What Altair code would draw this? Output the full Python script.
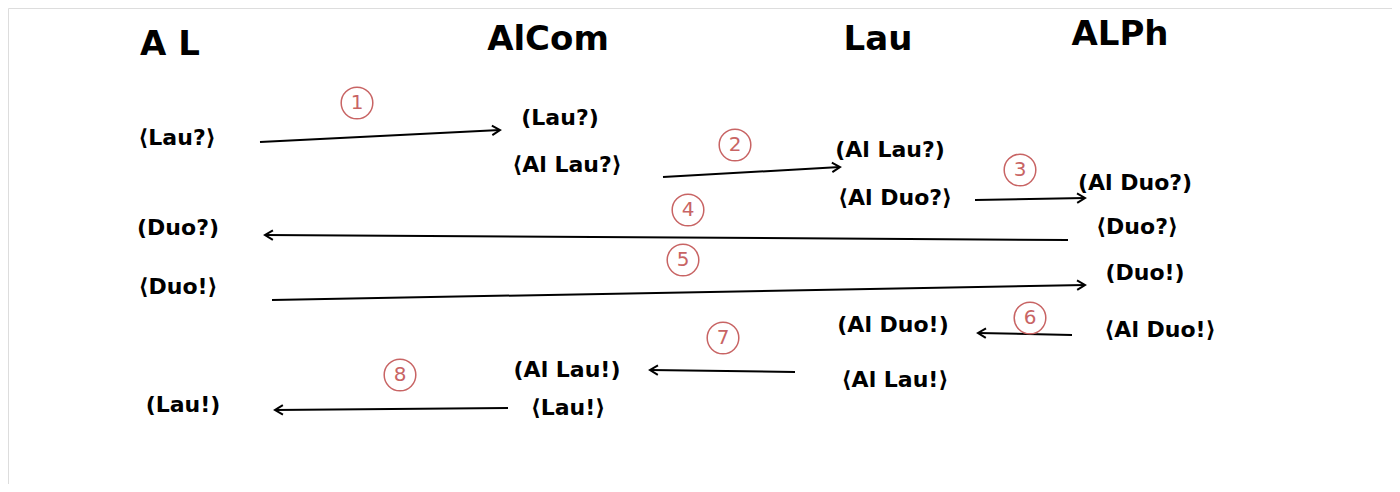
import altair as alt
import pandas as pd
import math

# headers
hdr_text = ["A L", "AlCom", "Lau", "ALPh"]
hdr_x = [170, 548, 878, 1120]
hdr_y = [45, 40, 40, 35]

# message labels
msg_text = ["⟨Lau?⟩", "(Lau?)", "⟨Al Lau?⟩", "(Al Lau?)", "⟨Al Duo?⟩", "(Al Duo?)", "⟨Duo?⟩",
            "(Duo?)", "⟨Duo!⟩", "(Duo!)", "⟨Al Duo!⟩", "(Al Duo!)", "⟨Al Lau!⟩",
            "(Al Lau!)", "⟨Lau!⟩", "(Lau!)"]
msg_x = [177, 560, 567, 890, 895, 1135, 1137, 178, 178, 1145, 1160, 893, 895, 567, 568, 183]
msg_y = [138, 118, 165, 150, 198, 183, 227, 228, 287, 273, 330, 325, 380, 370, 408, 405]

# arrows
ax1 = [260, 663, 975, 1068, 272, 1072, 795, 508]
ay1 = [142, 177, 200, 240, 300, 335, 372, 408]
ax2 = [500, 840, 1085, 265, 1085, 978, 650, 275]
ay2 = [130, 167, 198, 235, 285, 333, 370, 410]

# circled step numbers
num = ["1", "2", "3", "4", "5", "6", "7", "8"]
nx = [357, 735, 1020, 688, 683, 1030, 723, 400]
ny = [103, 145, 170, 210, 260, 318, 338, 375]

X = alt.Scale(domain=[8, 1392], nice=False, zero=False)
Y = alt.Scale(domain=[8, 484], nice=False, zero=False, reverse=True)

hdr = pd.DataFrame({"t": hdr_text, "x": hdr_x, "y": hdr_y})
msg = pd.DataFrame({"t": msg_text, "x": msg_x, "y": msg_y})
arr = pd.DataFrame({"x": ax1, "y": ay1, "x2": ax2, "y2": ay2})
arr["ang"] = [math.degrees(math.atan2(b - a, c - d)) % 360 for a, b, c, d in zip(ay1, ay2, ax2, ax1)]
circ = pd.DataFrame({"t": num, "x": nx, "y": ny})

font = "DejaVu Sans"
red = "#c86464"

h = alt.Chart(hdr).mark_text(font=font, fontSize=34, fontWeight="bold", color="black").encode(
    x=alt.X("x:Q", scale=X, axis=None), y=alt.Y("y:Q", scale=Y, axis=None), text="t:N")
m = alt.Chart(msg).mark_text(font=font, fontSize=22, fontWeight="bold", color="black").encode(
    x=alt.X("x:Q", scale=X, axis=None), y=alt.Y("y:Q", scale=Y, axis=None), text="t:N")
lines = alt.Chart(arr).mark_rule(color="black", strokeWidth=2).encode(
    x=alt.X("x:Q", scale=X, axis=None), y=alt.Y("y:Q", scale=Y, axis=None), x2="x2:Q", y2="y2:Q")
heads = alt.Chart(arr).mark_point(shape="M -1 -0.6 L 0 0 L -1 0.6", filled=False, color="black",
                                  strokeWidth=2, size=250, opacity=1).encode(
    x=alt.X("x2:Q", scale=X, axis=None), y=alt.Y("y2:Q", scale=Y, axis=None),
    angle=alt.Angle("ang:Q", scale=None))
c = alt.Chart(circ).mark_point(shape="circle", filled=False, color=red, size=1000, strokeWidth=1.5,
                               opacity=1).encode(
    x=alt.X("x:Q", scale=X, axis=None), y=alt.Y("y:Q", scale=Y, axis=None))
ct = alt.Chart(circ).mark_text(font=font, fontSize=20, color=red).encode(
    x=alt.X("x:Q", scale=X, axis=None), y=alt.Y("y:Q", scale=Y, axis=None), text="t:N")

chart = alt.layer(lines, heads, c, ct, h, m).properties(
    width=1384, height=476, padding=0
).configure_view(stroke=None).configure(background="white")

chart.save("out.html", embed_options={"renderer": "svg", "actions": False})
